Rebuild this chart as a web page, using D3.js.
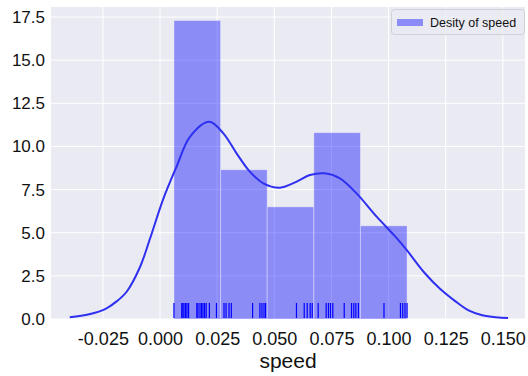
<!DOCTYPE html>
<html><head><meta charset="utf-8">
<script src="https://cdn.jsdelivr.net/npm/d3@7"></script>
<style>body{margin:0;background:#fff}svg{display:block}</style>
</head><body>
<svg id="c" width="528" height="376"></svg>
<script>
// Histogram bins (density)
const binEdges = [0.0061, 0.0265, 0.0469, 0.0673, 0.0877, 0.1081];
const binDensity = [17.3, 8.65, 6.5, 10.8, 5.4];
// KDE curve points
const kdeX = [-0.0395,-0.031,-0.0234,-0.019,-0.0146,-0.0088,-0.0044,0.0014,0.0073,0.0131,0.0215,0.0277,0.0335,0.0393,0.0452,0.0525,0.0598,0.0656,0.0721,0.0787,0.086,0.0948,0.1028,0.1079,0.1159,0.1225,0.129,0.135,0.141,0.147,0.1523];
const kdeY = [0.1,0.27,0.62,1.02,1.58,3.0,4.65,6.95,8.85,10.56,11.43,10.76,9.6,8.54,7.86,7.61,7.96,8.34,8.44,8.15,7.28,5.93,4.8,4.0,2.65,1.75,1.05,0.5,0.22,0.1,0.06];
const rug = [0.0061,0.0095,0.0100,0.0105,0.0112,0.0118,0.0125,0.0161,0.0166,0.0175,0.0182,0.0188,0.0195,0.0202,0.0216,0.0247,0.0280,0.0289,0.0302,0.0312,0.0405,0.0437,0.0446,0.0455,0.0462,0.0597,0.0631,0.0644,0.0657,0.0666,0.0692,0.0727,0.0737,0.0746,0.0756,0.0806,0.0838,0.0848,0.0857,0.0868,0.0980,0.1052,0.1062,0.1072,0.1081];
const xTicks = [-0.025,0.000,0.025,0.050,0.075,0.100,0.125,0.150];
const yTicks = [0.0,2.5,5.0,7.5,10.0,12.5,15.0,17.5];

const svg = d3.select("#c");
const L=51, R=525, T=7, B=319;
const x = d3.scaleLinear().domain([-0.0477,0.1597]).range([L,R]);
const y = d3.scaleLinear().domain([0,18.08]).range([B,T]);
const FONT = "Liberation Sans, Arial, sans-serif";

svg.append("rect").attr("x",L).attr("y",T).attr("width",R-L).attr("height",B-T).attr("fill","#eaeaf2");

const g = svg.append("g");
g.selectAll(".vg").data(xTicks).join("line").attr("x1",d=>x(d)).attr("x2",d=>x(d)).attr("y1",T).attr("y2",B).attr("stroke","#fff").attr("stroke-width",1);
g.selectAll(".hg").data(yTicks).join("line").attr("y1",d=>y(d)).attr("y2",d=>y(d)).attr("x1",L).attr("x2",R).attr("stroke","#fff").attr("stroke-width",1);

// bars
svg.append("g").selectAll("rect").data(binDensity).join("rect")
  .attr("x",(d,i)=>x(binEdges[i])).attr("width",(d,i)=>x(binEdges[i+1])-x(binEdges[i]))
  .attr("y",d=>y(d)).attr("height",d=>y(0)-y(d))
  .attr("fill","#0000ff").attr("fill-opacity",0.4)
  .attr("stroke","#ffffff").attr("stroke-opacity",0.35).attr("stroke-width",1);

// rug
svg.append("g").selectAll("line").data(rug).join("line")
  .attr("x1",d=>x(d)).attr("x2",d=>x(d)).attr("y1",B-16).attr("y2",B-1)
  .attr("stroke","#0000ff").attr("stroke-width",1.2);

// kde
const pts = kdeX.map((v,i)=>[v,kdeY[i]]);
svg.append("path").datum(pts)
  .attr("d", d3.line().x(d=>x(d[0])).y(d=>y(d[1])).curve(d3.curveCatmullRom.alpha(0.5)))
  .attr("fill","none").attr("stroke","#2f2ff2").attr("stroke-width",2);

// axes
const fmtX = d => d3.format(".3f")(d).replace("\u2212","-");
const ax = svg.append("g").attr("transform",`translate(0,${B})`)
  .call(d3.axisBottom(x).tickValues(xTicks).tickFormat(fmtX).tickSize(0).tickPadding(13));
ax.select(".domain").remove();
ax.selectAll("text").attr("font-family",FONT).attr("font-size",18).attr("fill","#111");

const ay = svg.append("g").attr("transform",`translate(${L},0)`)
  .call(d3.axisLeft(y).tickValues(yTicks).tickFormat(d3.format(".1f")).tickSize(0).tickPadding(6));
ay.select(".domain").remove();
ay.selectAll("text").attr("font-family",FONT).attr("font-size",17).attr("fill","#111");

svg.append("text").attr("x",(L+R)/2).attr("y",368).attr("text-anchor","middle")
  .attr("font-family",FONT).attr("font-size",21).attr("fill","#111").text("speed");

// legend
const lg = svg.append("g");
lg.append("rect").attr("x",391.5).attr("y",9.5).attr("width",133).attr("height",25).attr("rx",3)
  .attr("fill","#eaeaf2").attr("fill-opacity",0.8).attr("stroke","#d0d0d8").attr("stroke-width",1);
lg.append("rect").attr("x",397).attr("y",19).attr("width",26).attr("height",7)
  .attr("fill","#0000ff").attr("fill-opacity",0.4);
lg.append("text").attr("x",430).attr("y",27).attr("font-family",FONT)
  .attr("font-size",12.5).attr("fill","#111").text("Desity of speed");
</script>
</body></html>
